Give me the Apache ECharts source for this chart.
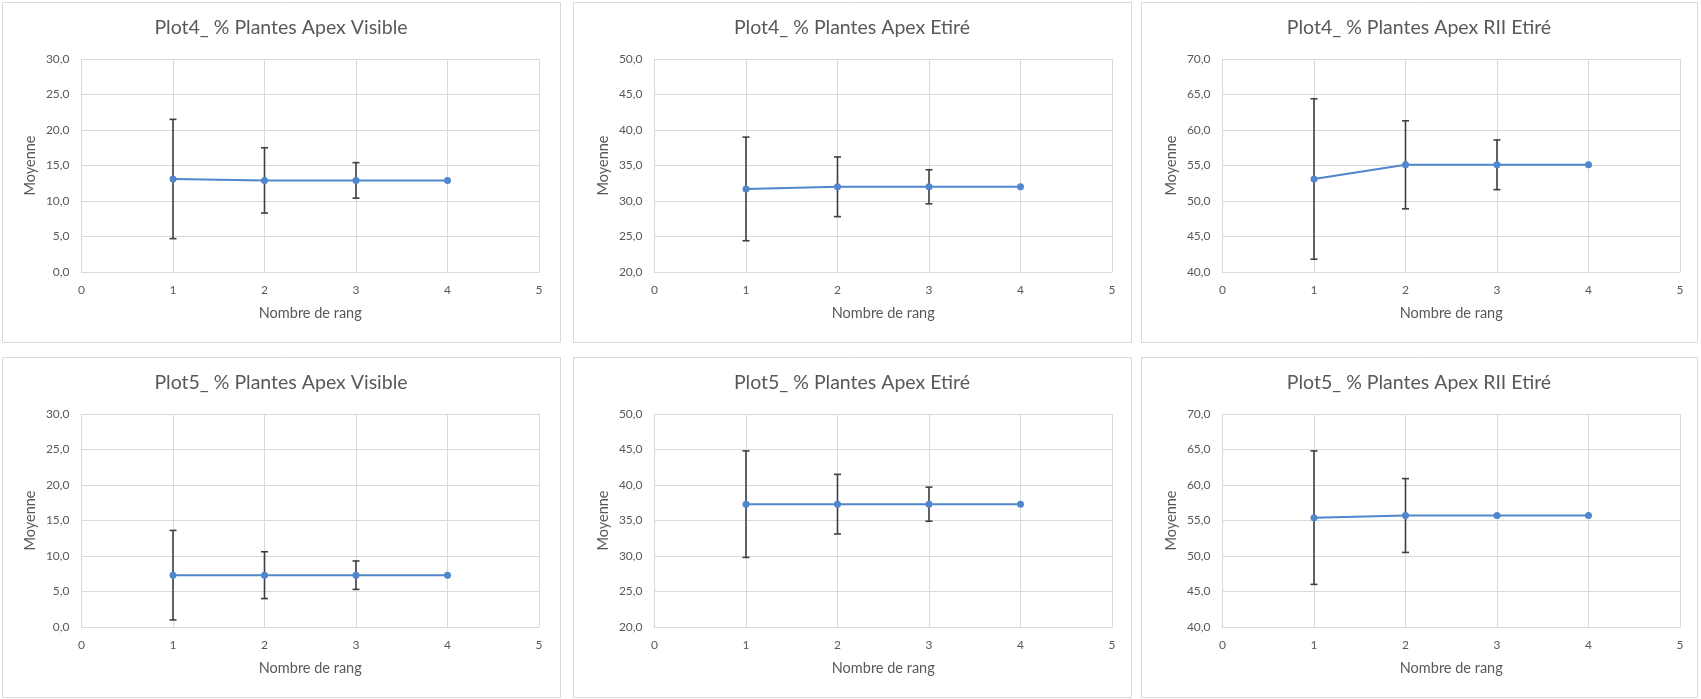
<!DOCTYPE html>
<html>
<head>
<meta charset="utf-8">
<script src="https://cdn.jsdelivr.net/npm/echarts@6/dist/echarts.min.js"></script>
<style>
html,body{margin:0;padding:0;background:#fff;}
#c{width:1701px;height:699px;}
</style>
</head>
<body>
<div id="c"></div>
<script>
// ---- data ----
const titles = [
  "Plot4_ % Plantes Apex Visible",
  "Plot4_ % Plantes Apex Etiré",
  "Plot4_ % Plantes Apex RII Etiré",
  "Plot5_ % Plantes Apex Visible",
  "Plot5_ % Plantes Apex Etiré",
  "Plot5_ % Plantes Apex RII Etiré"
];
const rangs = [1, 2, 3, 4];
const xTicks = [0, 1, 2, 3, 4, 5];
const p4VisibleMean = [13.1, 12.9, 12.9, 12.9];
const p4VisibleErr  = [8.4, 4.6, 2.5, 0];
const p4EtireMean   = [31.7, 32.0, 32.0, 32.0];
const p4EtireErr    = [7.3, 4.2, 2.4, 0];
const p4RIIMean     = [53.1, 55.1, 55.1, 55.1];
const p4RIIErr      = [11.3, 6.2, 3.5, 0];
const p5VisibleMean = [7.3, 7.3, 7.3, 7.3];
const p5VisibleErr  = [6.3, 3.3, 2.0, 0];
const p5EtireMean   = [37.3, 37.3, 37.3, 37.3];
const p5EtireErr    = [7.5, 4.2, 2.4, 0];
const p5RIIMean     = [55.4, 55.7, 55.7, 55.7];
const p5RIIErr      = [9.4, 5.2, 0, 0];
const yTicksVisible = [0, 5, 10, 15, 20, 25, 30];
const yTicksEtire   = [20, 25, 30, 35, 40, 45, 50];
const yTicksRII     = [40, 45, 50, 55, 60, 65, 70];
const xAxisTitle = "Nombre de rang";
const yAxisTitle = "Moyenne";

// ---- layout ----
const means = [p4VisibleMean, p4EtireMean, p4RIIMean, p5VisibleMean, p5EtireMean, p5RIIMean];
const errs  = [p4VisibleErr, p4EtireErr, p4RIIErr, p5VisibleErr, p5EtireErr, p5RIIErr];
const yTicks = [yTicksVisible, yTicksEtire, yTicksRII, yTicksVisible, yTicksEtire, yTicksRII];

const panelX = [2, 573, 1141];
const panelW = [558, 558, 556];
const panelY = [2, 357];
const panelH = 340;
const plotLeft = [81.5, 654.5, 1222.5];
const plotW = 457.5;
const plotTop = [59, 414];
const plotH = 213;

const FONT = "Lato, 'Open Sans', sans-serif";
const TXT = "#595959";
const GRIDC = "#d9d9d9";
const LINEC = "#4F86CC";
const ERRC = "#3f3f3f";

const grids = [], xAxes = [], yAxes = [], series = [], graphics = [];
for (let i = 0; i < 6; i++) {
  const r = Math.floor(i / 3), c = i % 3;
  graphics.push({
    type: 'rect', silent: true, z: 0,
    shape: {x: panelX[c] + 0.5, y: panelY[r] + 0.5, width: panelW[c], height: panelH},
    style: {fill: '#fff', stroke: GRIDC, lineWidth: 1}
  });
  graphics.push({
    type: 'text', silent: true, z: 10,
    x: panelX[c] + panelW[c] / 2, y: panelY[r] + 26,
    style: {text: titles[i], fill: TXT, font: "19.5px " + FONT, textAlign: 'center', textVerticalAlign: 'middle'}
  });
  grids.push({left: plotLeft[c], top: plotTop[r], width: plotW, height: plotH, containLabel: false});
  xAxes.push({
    type: 'value', gridIndex: i, min: xTicks[0], max: xTicks[xTicks.length - 1], interval: 1,
    name: xAxisTitle, nameLocation: 'middle', nameGap: 34,
    nameTextStyle: {color: TXT, fontSize: 14.5, fontFamily: FONT},
    axisLine: {show: true, lineStyle: {color: GRIDC, width: 1}},
    axisTick: {show: false},
    splitLine: {show: true, lineStyle: {color: GRIDC, width: 1}},
    axisLabel: {color: TXT, fontSize: 12, fontFamily: FONT, margin: 12}
  });
  const yt = yTicks[i];
  yAxes.push({
    type: 'value', gridIndex: i, min: yt[0], max: yt[yt.length - 1], interval: yt[1] - yt[0],
    name: yAxisTitle, nameLocation: 'middle', nameGap: 44, nameRotate: 90,
    nameTextStyle: {color: TXT, fontSize: 14.5, fontFamily: FONT},
    axisLine: {show: false},
    axisTick: {show: false},
    splitLine: {show: true, lineStyle: {color: GRIDC, width: 1}},
    axisLabel: {color: TXT, fontSize: 12, fontFamily: FONT, margin: 12,
      formatter: v => v.toFixed(1).replace('.', ',')}
  });
  const m = means[i], e = errs[i];
  series.push({
    type: 'custom', xAxisIndex: i, yAxisIndex: i, z: 2, silent: true,
    data: rangs.map((x, k) => [x, m[k] - e[k], m[k] + e[k], e[k]]).filter(d => d[3] > 0),
    encode: {x: 0, y: [1, 2]},
    renderItem: function (params, api) {
      const lo = api.coord([api.value(0), api.value(1)]);
      const hi = api.coord([api.value(0), api.value(2)]);
      const cw = 3.5;
      const st = {stroke: ERRC, lineWidth: 1.6};
      return {type: 'group', children: [
        {type: 'line', shape: {x1: lo[0], y1: lo[1], x2: hi[0], y2: hi[1]}, style: st},
        {type: 'line', shape: {x1: lo[0] - cw, y1: lo[1], x2: lo[0] + cw, y2: lo[1]}, style: st},
        {type: 'line', shape: {x1: hi[0] - cw, y1: hi[1], x2: hi[0] + cw, y2: hi[1]}, style: st}
      ]};
    }
  });
  series.push({
    type: 'line', xAxisIndex: i, yAxisIndex: i, z: 3, silent: true,
    data: rangs.map((x, k) => [x, m[k]]),
    symbol: 'circle', symbolSize: 7, showSymbol: true,
    lineStyle: {color: LINEC, width: 2},
    itemStyle: {color: LINEC},
    animation: false
  });
}

const chart = echarts.init(document.getElementById('c'), null, {renderer: 'canvas'});
chart.setOption({
  animation: false,
  backgroundColor: '#fff',
  grid: grids, xAxis: xAxes, yAxis: yAxes, series: series,
  graphic: {elements: graphics}
});
</script>
</body>
</html>
